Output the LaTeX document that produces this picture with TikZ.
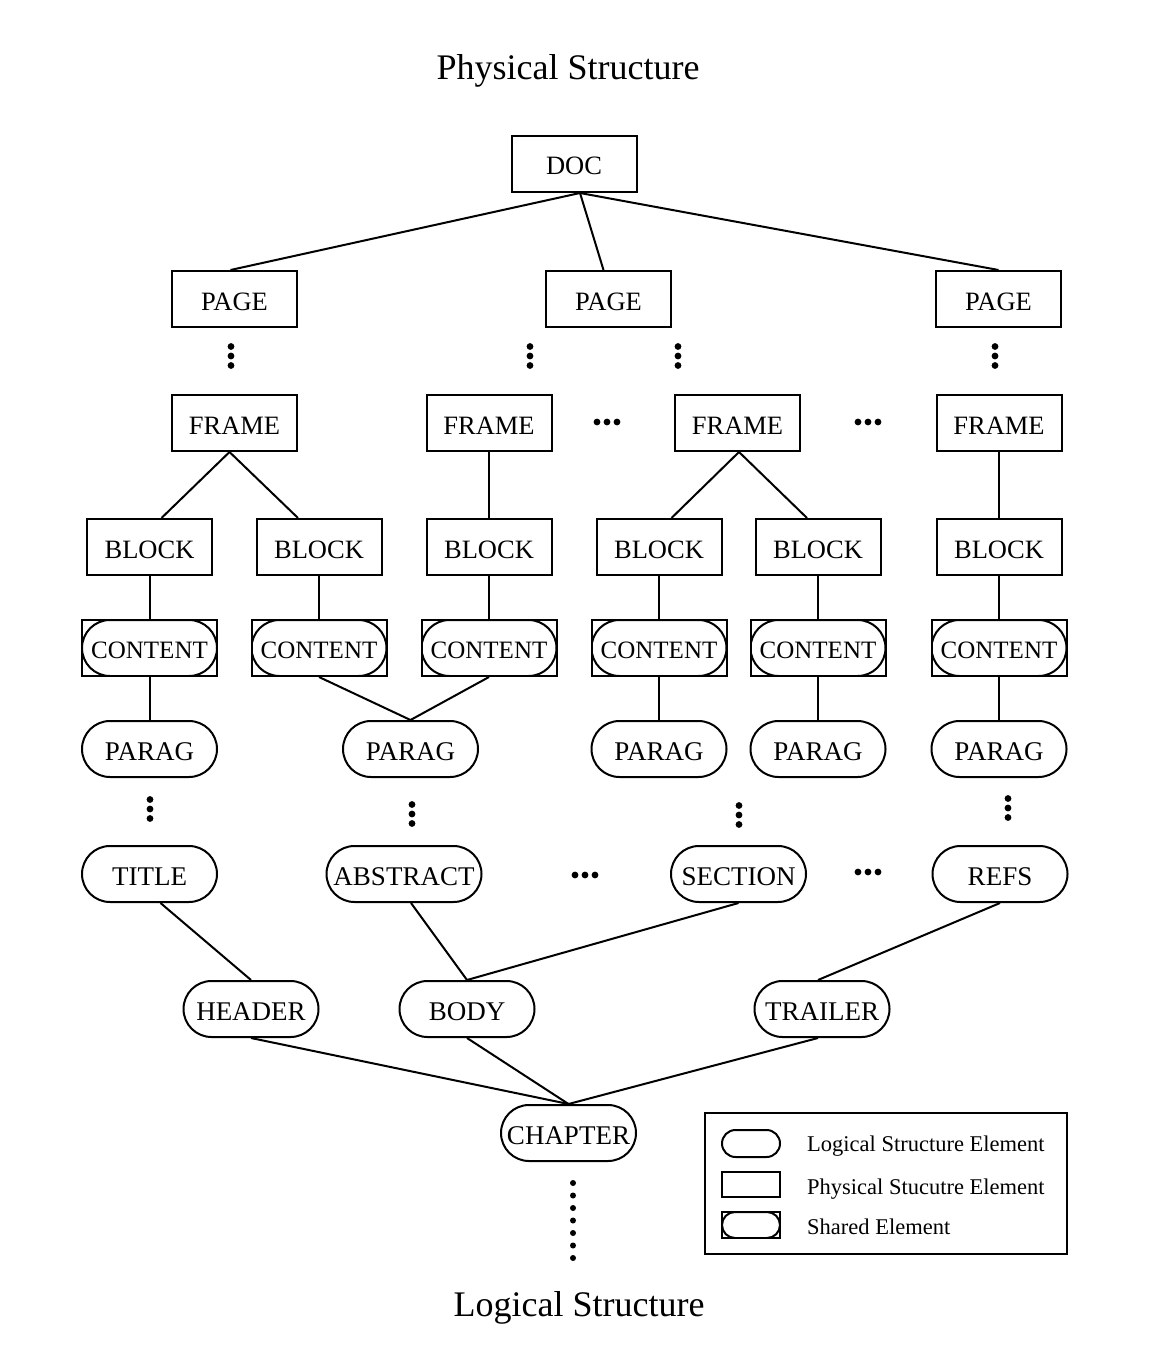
\documentclass[tikz,border=0pt]{standalone}
\usepackage{fontspec}
\setmainfont{Liberation Serif}
\usetikzlibrary{shapes.misc}
\begin{document}
\begin{tikzpicture}[x=1pt,y=-1pt,
  lw/.style={line width=2pt},
  phys/.style={draw, lw, rectangle, minimum width=125pt, minimum height=56pt, inner sep=0pt, font=\fontsize{26.5}{30}\selectfont, text height=22pt, text depth=0pt},
  logic/.style={draw, lw, rounded rectangle, minimum width=135pt, minimum height=56pt, inner sep=0pt, font=\fontsize{27}{30}\selectfont, text height=22.5pt, text depth=0pt},
  shared/.style={draw, lw, rectangle, minimum width=135pt, minimum height=56pt, inner sep=0pt, font=\fontsize{25}{30}\selectfont, text height=21pt, text depth=0pt,
    path picture={\node[draw, line width=2pt, rounded rectangle, minimum width=135pt, minimum height=56pt, inner sep=0pt] at (path picture bounding box.center) {};}},
  title/.style={font=\fontsize{36}{40}\selectfont, inner sep=0pt},
  legtext/.style={font=\fontsize{22.5}{26}\selectfont, anchor=west, inner sep=0pt},
  conn/.style={lw},
  dotr/.style={fill=black}
]
\useasboundingbox (0,0) rectangle (1152,1356);

% titles
\node[title] (ptitle) at (568,71) {Physical Structure};
\node[title] (ltitle) at (579,1308) {Logical Structure};

% physical
\node[phys] (DOC) at (574,164) {DOC};
\node[phys] (PG1) at (234.5,299) {PAGE};
\node[phys] (PG2) at (608.5,299) {PAGE};
\node[phys] (PG3) at (998.5,299) {PAGE};
\node[phys] (F1) at (234.5,423) {FRAME};
\node[phys] (F2) at (489,423) {FRAME};
\node[phys] (F3) at (737.5,423) {FRAME};
\node[phys] (F4) at (999,423) {FRAME};
\node[phys] (B1) at (149.5,547) {BLOCK};
\node[phys] (B2) at (319,547) {BLOCK};
\node[phys] (B3) at (489,547) {BLOCK};
\node[phys] (B4) at (659,547) {BLOCK};
\node[phys] (B5) at (818,547) {BLOCK};
\node[phys] (B6) at (999,547) {BLOCK};

% shared
\node[shared] (C1) at (149.5,648) {CONTENT};
\node[shared] (C2) at (319,648) {CONTENT};
\node[shared] (C3) at (489,648) {CONTENT};
\node[shared] (C4) at (659,648) {CONTENT};
\node[shared] (C5) at (818,648) {CONTENT};
\node[shared] (C6) at (999,648) {CONTENT};

% logical
\node[logic] (P1) at (149.5,749) {PARAG};
\node[logic] (P2) at (410.5,749) {PARAG};
\node[logic] (P3) at (659,749) {PARAG};
\node[logic] (P4) at (818,749) {PARAG};
\node[logic] (P5) at (999,749) {PARAG};
\node[logic] (TITLE) at (149.5,874) {TITLE};
\node[logic, minimum width=155pt] (ABS) at (404,874) {ABSTRACT};
\node[logic] (SEC) at (738.5,874) {SECTION};
\node[logic] (REFS) at (1000,874) {REFS};
\node[logic] (HEAD) at (251,1009) {HEADER};
\node[logic] (BODY) at (467,1009) {BODY};
\node[logic] (TRAIL) at (822,1009) {TRAILER};
\node[logic] (CHAP) at (568.5,1133) {CHAPTER};

% connectors
\draw[conn] ([xshift=6pt]DOC.south) -- ([xshift=-4pt]PG1.north);
\draw[conn] ([xshift=6pt]DOC.south) -- ([xshift=-5pt]PG2.north);
\draw[conn] ([xshift=6pt]DOC.south) -- (PG3.north);
\draw[conn] ([xshift=-5pt]F1.south) -- ([xshift=12pt]B1.north);
\draw[conn] ([xshift=-5pt]F1.south) -- ([xshift=-21pt]B2.north);
\draw[conn] (F2.south) -- (B3.north);
\draw[conn] ([xshift=1.5pt]F3.south) -- ([xshift=12.5pt]B4.north);
\draw[conn] ([xshift=1.5pt]F3.south) -- ([xshift=-11pt]B5.north);
\draw[conn] (F4.south) -- (B6.north);
\draw[conn] (B1.south) -- (C1.north);
\draw[conn] (B2.south) -- (C2.north);
\draw[conn] (B3.south) -- (C3.north);
\draw[conn] (B4.south) -- (C4.north);
\draw[conn] (B5.south) -- (C5.north);
\draw[conn] (B6.south) -- (C6.north);
\draw[conn] (C1.south) -- (P1.north);
\draw[conn] (C2.south) -- (P2.north);
\draw[conn] (C3.south) -- (P2.north);
\draw[conn] (C4.south) -- (P3.north);
\draw[conn] (C5.south) -- (P4.north);
\draw[conn] (C6.south) -- (P5.north);
\draw[conn] ([xshift=11pt]TITLE.south) -- (HEAD.north);
\draw[conn] ([xshift=7pt]ABS.south) -- (BODY.north);
\draw[conn] (SEC.south) -- (BODY.north);
\draw[conn] (REFS.south) -- ([xshift=-4pt]TRAIL.north);
\draw[conn] (HEAD.south) -- (CHAP.north);
\draw[conn] (BODY.south) -- (CHAP.north);
\draw[conn] ([xshift=-4pt]TRAIL.south) -- (CHAP.north);

% vertical ellipses
\foreach \x/\y in {231/356, 530/356, 678/356, 995/356, 150/809, 412/814, 739/815, 1008/808}
  \fill[dotr] (\x,\y-9.5) circle (3.4) (\x,\y) circle (3.4) (\x,\y+9.5) circle (3.4);
% horizontal ellipses
\foreach \x/\y in {607/422, 868/422, 585/875, 868/872}
  \fill[dotr] (\x-10,\y) circle (3.4) (\x,\y) circle (3.4) (\x+10,\y) circle (3.4);
% dotted line below chapter
\foreach \i in {0,...,6}
  \fill[dotr] (573,1183+12.5*\i) circle (3);

% legend
\node[draw, lw, minimum width=362pt, minimum height=141pt, inner sep=0pt] (legend) at (886,1183.5) {};
\node[draw, lw, rounded rectangle, minimum width=58pt, minimum height=27pt, inner sep=0pt] (L1) at (751,1143.5) {};
\node[draw, lw, rectangle, minimum width=58pt, minimum height=25pt, inner sep=0pt] (L2) at (751,1184) {};
\node[draw, lw, rectangle, minimum width=58pt, minimum height=26pt, inner sep=0pt,
  path picture={\node[draw, line width=2pt, rounded rectangle, minimum width=58pt, minimum height=26pt, inner sep=0pt] at (path picture bounding box.center) {};}] (L3) at (751,1225) {};
\node[legtext] (T1) at (807,1146) {Logical Structure Element};
\node[legtext] (T2) at (807,1189) {Physical Stucutre Element};
\node[legtext] (T3) at (807,1227) {Shared Element};
\end{tikzpicture}
\end{document}
